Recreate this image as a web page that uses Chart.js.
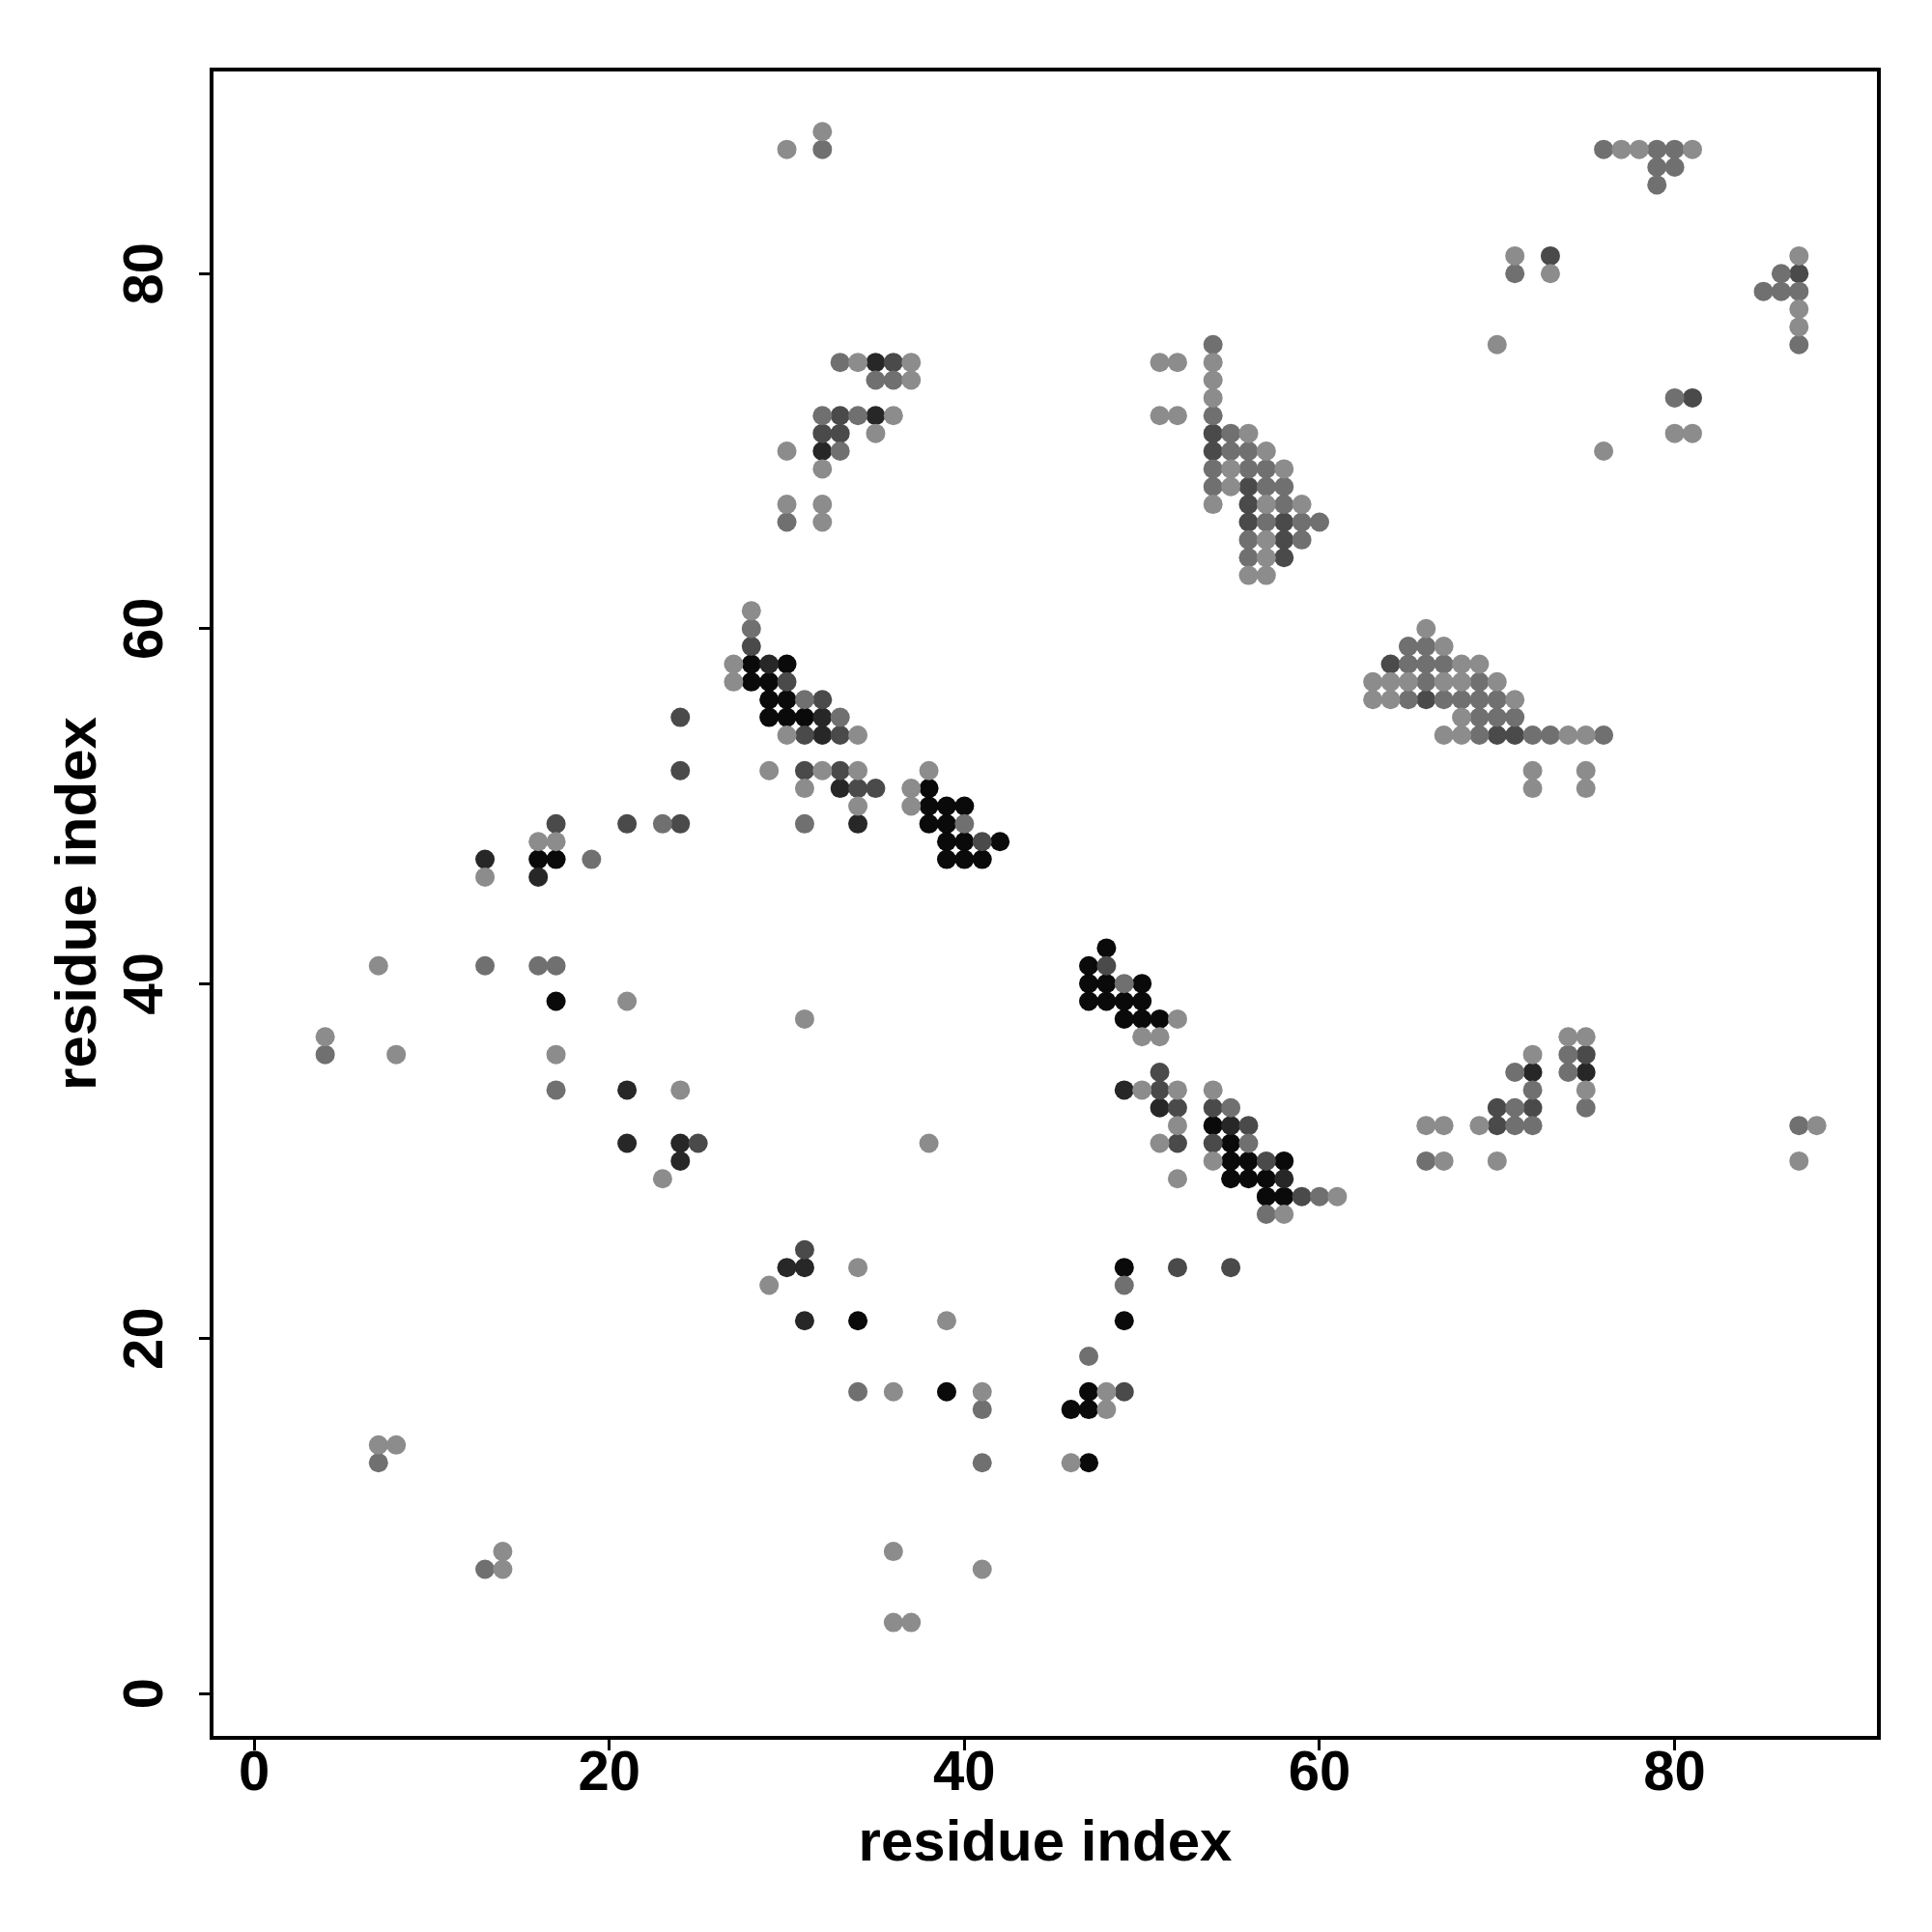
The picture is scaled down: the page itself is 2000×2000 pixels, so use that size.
<!DOCTYPE html>
<html>
<head>
<meta charset="utf-8">
<script src="https://cdn.jsdelivr.net/npm/chart.js@4/dist/chart.umd.min.js"></script>
<style>
  body { margin: 0; background: #fff; }
  #wrap { width: 2000px; height: 2000px; }
</style>
</head>
<body>
<div id="wrap"><canvas id="contactMap" width="2000" height="2000"></canvas></div>
<script>
// contact points, grouped by grey level (x = residue, y = residue)
const lightPts = [
  [30,87],[32,88],[34,75],[37,75],[37,74],[36,72],[35,71],[30,70],[32,69],[30,67],[32,67],[32,66],
  [28,61],[27,58],[27,57],[30,54],[34,54],[29,52],[32,52],[34,52],[38,52],[31,51],[37,51],[34,50],[37,50],
  [52,38],[50,37],[51,37],[50,34],[52,34],[54,34],[52,32],[51,31],[54,30],[52,29],[58,27],[61,28],
  [31,38],[38,31],
  [4,37],[7,41],[8,36],[13,46],[16,48],[17,48],[17,36],[21,39],[24,34],[23,29],
  [34,24],[29,23],[39,21],[36,17],[41,17],[48,16],[48,17],[46,13],[36,8],[36,4],[37,4],[41,7],
  [7,14],[8,14],[14,7],[14,8],
  [51,75],[52,75],[51,72],[52,72],[54,75],[54,74],[54,73],[54,67],[56,71],[57,70],[55,69],[58,69],
  [55,68],[57,67],[59,67],[57,65],[57,64],[56,63],[57,63],
  [70,76],[76,70],
  [66,60],[67,59],[68,58],[69,58],[63,57],[64,57],[65,57],[67,57],[68,57],[70,57],[63,56],[64,56],
  [71,56],[68,55],[67,54],[68,54],[74,54],[75,54],[72,52],[75,52],[72,51],[75,51],
  [66,32],[67,32],[67,30],[69,32],[70,30],[72,36],[74,37],[75,37],[75,34],[88,32],[87,30],
  [77,87],[78,87],[81,87],[71,81],[73,80],[80,71],[81,71],[87,81],[87,78],[87,77]
];
const midPts = [
  [32,87],[33,75],[35,74],[36,74],[32,72],[34,72],[33,70],[30,66],
  [28,60],[31,56],[33,55],[31,49],[40,49],
  [49,40],[57,27],[60,28],[55,33],[56,31],
  [4,36],[13,41],[16,41],[17,41],[17,34],[19,47],[23,49],
  [34,17],[41,16],[41,13],[47,19],[49,23],[7,13],[13,7],
  [54,76],[54,72],[54,69],[54,68],[55,71],[55,70],[56,70],[56,69],[57,69],[57,68],[58,68],[58,67],
  [57,66],[59,66],[60,66],[56,65],[59,65],[56,64],
  [65,59],[66,59],[65,58],[66,58],[67,58],[66,57],[69,57],[65,56],[67,56],[68,56],[69,56],[70,56],
  [69,55],[70,55],[71,55],[69,54],[72,54],[73,54],[76,54],
  [66,30],[71,32],[72,32],[71,33],[71,35],[72,34],[74,36],[74,35],[75,33],[87,32],
  [76,87],[79,87],[80,87],[79,86],[80,86],[79,85],[71,80],[80,73],[85,79],[86,79],[86,80],[87,79],[87,76]
];
const darkPts = [
  [36,75],[33,72],[32,71],[33,71],
  [28,59],[30,57],[32,56],[31,54],[33,54],[31,52],[33,52],[34,51],[35,51],[41,48],
  [48,41],[51,35],[51,34],[52,33],[54,33],[56,32],[52,31],[54,31],[57,30],[59,28],
  [17,49],[24,52],[24,55],[25,31],[21,49],[24,49],
  [31,25],[52,24],[55,24],[49,17],
  [54,71],[54,70],[56,68],[56,67],[56,66],[58,66],[58,65],[58,64],
  [64,58],[66,56],[70,54],[71,54],
  [70,32],[70,33],[72,33],[75,36],[73,81],[81,73],[87,80]
];
const veryDarkPts = [
  [35,75],[35,72],[32,70],[29,58],[32,55],[32,54],[33,51],[34,49],
  [58,29],[55,32],[51,33],[49,34],
  [13,47],[16,46],[21,31],[24,31],[24,30],[21,34],
  [30,24],[31,24],[31,21],[72,35],[75,35]
];
const blackPts = [
  [28,58],[30,58],[28,57],[29,57],[29,56],[30,56],[29,55],[30,55],[31,55],
  [38,51],[38,50],[39,50],[40,50],[38,49],[39,49],[39,48],[40,48],[42,48],[39,47],[40,47],[41,47],
  [48,42],[47,41],[47,40],[48,40],[50,40],[47,39],[48,39],[49,39],[50,39],[49,38],[50,38],[51,38],
  [54,32],[55,31],[55,30],[56,30],[58,30],[55,29],[56,29],[57,29],[57,28],[58,28],
  [16,47],[17,47],[17,39],
  [34,21],[39,17],[46,16],[47,16],[47,17],[49,21],[49,24],[47,13]
];
const groups = [
  { pts: lightPts, color: '#8c8c8c' },
  { pts: midPts, color: '#707070' },
  { pts: darkPts, color: '#4a4a4a' },
  { pts: veryDarkPts, color: '#272727' },
  { pts: blackPts, color: '#0a0a0a' }
];
const tickFont = { family: "'Liberation Sans', Arial, sans-serif", size: 58, weight: 'bold', lineHeight: 1 };
const titleFont = { family: "'Liberation Sans', Arial, sans-serif", size: 60, weight: 'bold' };

// frame around the plot and rotated y tick labels (like R's las=0)
const framePlugin = {
  id: 'frame',
  afterDraw(chart) {
    const { ctx, chartArea: a, scales } = chart;
    ctx.save();
    ctx.lineWidth = 4;
    ctx.strokeStyle = '#000';
    ctx.strokeRect(a.left, a.top, a.right - a.left, a.bottom - a.top);
    ctx.fillStyle = '#000';
    ctx.font = 'bold 58px "Liberation Sans", Arial, sans-serif';
    ctx.textAlign = 'center';
    ctx.textBaseline = 'middle';
    scales.y.ticks.forEach(t => {
      const py = scales.y.getPixelForValue(t.value);
      ctx.save();
      ctx.translate(152, py);
      ctx.rotate(-Math.PI / 2);
      ctx.fillText(String(t.value), 0, 0);
      ctx.restore();
    });
    ctx.restore();
  }
};

new Chart(document.getElementById('contactMap'), {
  type: 'scatter',
  data: {
    datasets: groups.map(g => ({
      data: g.pts.map(([x, y]) => ({ x, y })),
      backgroundColor: g.color,
      borderWidth: 0,
      pointRadius: 10,
      pointHoverRadius: 10
    }))
  },
  options: {
    responsive: false,
    animation: false,
    devicePixelRatio: 1,
    layout: { padding: { top: 72, right: 55, left: 0, bottom: 0 } },
    plugins: { legend: { display: false }, tooltip: { enabled: false } },
    scales: {
      x: {
        type: 'linear',
        min: -2.4,
        max: 91.5,
        afterFit: s => { s.height = 201; },
        border: { display: false },
        grid: { drawOnChartArea: false, drawTicks: true, tickLength: 13, color: '#000', lineWidth: 3 },
        ticks: { stepSize: 20, includeBounds: false, color: '#000', font: tickFont, padding: -4, maxRotation: 0 },
        title: { display: true, text: 'residue index', color: '#000', font: titleFont, padding: { top: 0, bottom: 55 } }
      },
      y: {
        type: 'linear',
        min: -2.5,
        max: 91.5,
        afterFit: s => { s.width = 219; },
        border: { display: false },
        grid: { drawOnChartArea: false, drawTicks: true, tickLength: 13, color: '#000', lineWidth: 3 },
        ticks: { stepSize: 20, includeBounds: false, display: false },
        title: { display: true, text: 'residue index', color: '#000', font: titleFont, padding: { top: 46, bottom: 0 } }
      }
    }
  },
  plugins: [framePlugin]
});
</script>
</body>
</html>
